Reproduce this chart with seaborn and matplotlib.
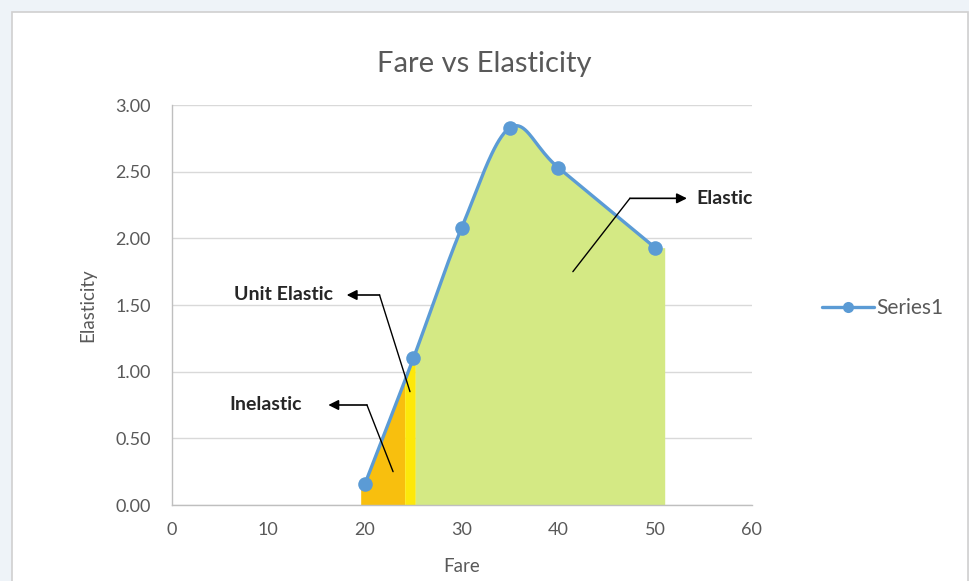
import numpy as np
import matplotlib
matplotlib.use("Agg")
import matplotlib.pyplot as plt
from matplotlib.lines import Line2D
from matplotlib.patches import Rectangle
import seaborn as sns

# ---- data -------------------------------------------------------------
fare = [20, 25, 30, 35, 40, 50]
elasticity = [0.16, 1.10, 2.08, 2.83, 2.53, 1.93]
series_name = "Series1"

# shaded zones along the fare axis: (start, end, colour)
zone_edges = [19.55, 24.1, 25.2, 51.0]
zone_colors = ["#f8bf0e", "#fde80a", "#d4e984"]

x_ticks = [0, 10, 20, 30, 40, 50, 60]
y_ticks = [0.0, 0.5, 1.0, 1.5, 2.0, 2.5, 3.0]

# callouts: label, text anchor, arrow head, elbow, tail (data coords)
callouts = [
    ("Elastic", (54.3, 2.30), "left", (53.3, 2.30), (47.4, 2.30), (41.5, 1.75)),
    ("Unit Elastic", (16.7, 1.575), "right", (18.1, 1.575), (21.5, 1.575), (24.65, 0.85)),
    ("Inelastic", (13.45, 0.75), "right", (16.2, 0.75), (20.2, 0.75), (22.9, 0.25)),
]


def catmull_rom(xs, ys, n=40):
    """Uniform Catmull-Rom spline through the points (smoothed line)."""
    p = np.column_stack([xs, ys]).astype(float)
    p = np.vstack([2 * p[0] - p[1], p, 2 * p[-1] - p[-2]])
    out = []
    t = np.linspace(0, 1, n, endpoint=False)[:, None]
    for i in range(1, len(p) - 2):
        p0, p1, p2, p3 = p[i - 1], p[i], p[i + 1], p[i + 2]
        seg = 0.5 * ((2 * p1) + (-p0 + p2) * t
                     + (2 * p0 - 5 * p1 + 4 * p2 - p3) * t ** 2
                     + (-p0 + 3 * p1 - 3 * p2 + p3) * t ** 3)
        out.append(seg)
    out.append(p[-2][None, :])
    c = np.vstack(out)
    return c[:, 0], c[:, 1]


# ---- styling ------------------------------------------------------------
sns.set_theme(style="white")
plt.rcParams["font.family"] = ["Lato", "DejaVu Sans"]
text_gray = "#595959"
line_blue = "#5b9bd5"

fig = plt.figure(figsize=(9.7, 5.81), dpi=100)
fig.patch.set_facecolor("#eef3f8")
# chart area panel with its thin border
panel = Rectangle((12 / 970, -0.05), 956 / 970, 1 - 12 / 581 + 0.05,
                  transform=fig.transFigure, facecolor="white",
                  edgecolor="#d0d0d0", linewidth=1.2, zorder=-10)
fig.patches.append(panel)

ax = fig.add_axes([171.7 / 970, 76 / 581, 580 / 970, 400 / 581])
ax.set_zorder(1)
ax.set_facecolor("none")

# smoothed series
sx, sy = catmull_rom(fare, elasticity)

# shaded zones under the curve
for (x0, x1), col in zip(zip(zone_edges[:-1], zone_edges[1:]), zone_colors):
    gx = np.linspace(x0, x1, 200)
    gy = np.interp(gx, sx, sy)
    ax.fill_between(gx, 0, gy, color=col, linewidth=0, zorder=1)

sns.lineplot(x=sx, y=sy, ax=ax, color=line_blue, linewidth=2.4,
             sort=False, estimator=None, zorder=3)
sns.scatterplot(x=fare, y=elasticity, ax=ax, color=line_blue, s=110,
                edgecolor=line_blue, linewidth=0, zorder=4)

# axes
ax.set_xlim(0, 60)
ax.set_ylim(0, 3)
ax.set_xticks(x_ticks)
ax.set_yticks(y_ticks)
ax.set_yticklabels([f"{v:.2f}" for v in y_ticks])
ax.tick_params(axis="both", length=0, labelsize=13, colors=text_gray)
ax.tick_params(axis="y", pad=15)
ax.tick_params(axis="x", pad=12)
ax.set_axisbelow(True)
ax.grid(axis="y", color="#d9d9d9", linewidth=1)
for side in ("top", "right"):
    ax.spines[side].set_visible(False)
for side in ("left", "bottom"):
    ax.spines[side].set_color("#bfbfbf")
    ax.spines[side].set_linewidth(1)

ax.set_xlabel("Fare", fontsize=13.5, color=text_gray)
ax.set_ylabel("Elasticity", fontsize=13.5, color=text_gray)
ax.xaxis.set_label_coords(0.5, -0.133)
ax.yaxis.set_label_coords(-0.13, 0.5)

fig.text(484 / 970, 1 - 64 / 581, "Fare vs Elasticity", ha="center", va="center",
         fontsize=21, color=text_gray)

# callouts
for label, tpos, ha, head, elbow, tail in callouts:
    ax.plot([tail[0], elbow[0]], [tail[1], elbow[1]], color="black", lw=1,
            zorder=5, clip_on=False)
    ax.annotate("", xy=head, xytext=elbow,
                arrowprops=dict(arrowstyle="-|>,head_length=0.5,head_width=0.25",
                                color="black", lw=1.2, shrinkA=0, shrinkB=0),
                zorder=5, annotation_clip=False)
    ax.text(tpos[0], tpos[1], label, ha=ha, va="center", fontsize=14,
            fontweight="bold", color="#262626", zorder=6, clip_on=False)

# legend
handle = Line2D([], [], color=line_blue, lw=2.4, marker="o", markersize=8,
                markeredgewidth=0)
ax.legend([handle], [series_name], loc="center left",
          bbox_to_anchor=(822 / 970, 1 - 308 / 581), bbox_transform=fig.transFigure,
          frameon=False, fontsize=15, labelcolor=text_gray, handlelength=2.5,
          handletextpad=0.1, borderpad=0, borderaxespad=0)

fig.savefig("out.png", dpi=100, facecolor=fig.get_facecolor())
